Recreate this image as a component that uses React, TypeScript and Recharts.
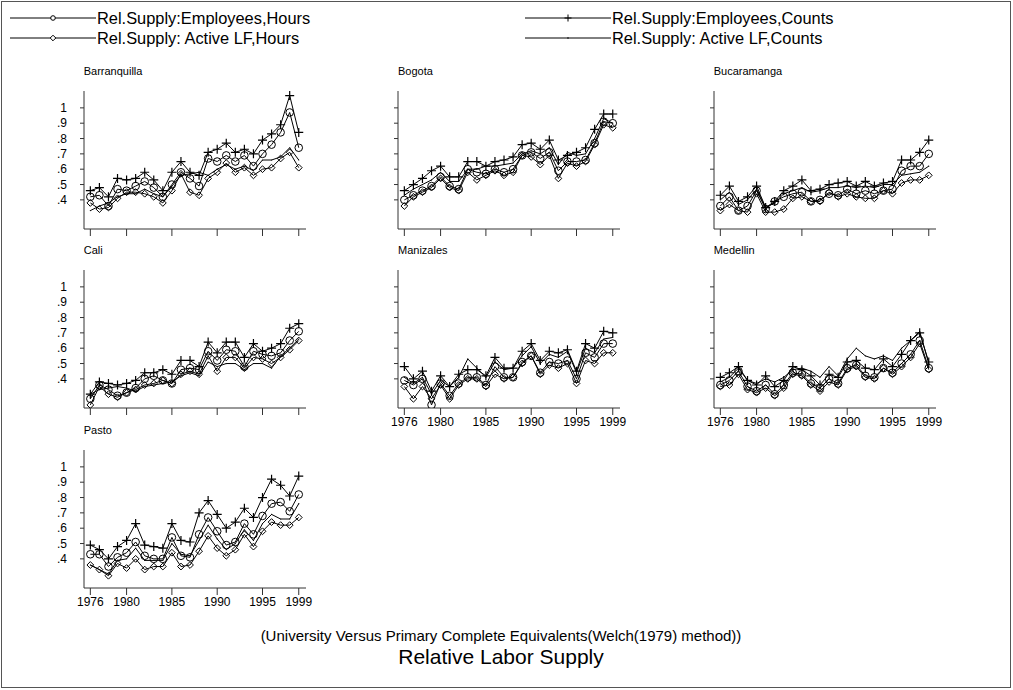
import React from 'react';
import { LineChart, Line, XAxis, YAxis } from 'recharts';

const years = [1976, 1977, 1978, 1979, 1980, 1981, 1982, 1983, 1984, 1985, 1986, 1987, 1988, 1989, 1990, 1991, 1992, 1993, 1994, 1995, 1996, 1997, 1998, 1999];
const xTicks = [1976, 1980, 1985, 1990, 1995, 1999];
const yTicks = [0.4, 0.5, 0.6, 0.7, 0.8, 0.9, 1];
const seriesNames = ['Rel.Supply:Employees,Hours', 'Rel.Supply:Employees,Counts', 'Rel.Supply: Active LF,Hours', 'Rel.Supply: Active LF,Counts'];
const cityNames = ['Barranquilla', 'Bogota', 'Bucaramanga', 'Cali', 'Manizales', 'Medellin', 'Pasto'];
const titleText = 'Relative Labor Supply';
const subtitleText = '(University Versus Primary Complete Equivalents(Welch(1979) method))';

const barranquillaEmpHours = [0.42, 0.43, 0.36, 0.47, 0.46, 0.49, 0.52, 0.48, 0.42, 0.50, 0.58, 0.54, 0.49, 0.67, 0.65, 0.69, 0.65, 0.69, 0.62, 0.70, 0.76, 0.84, 0.97, 0.74];
const barranquillaEmpCounts = [0.46, 0.48, 0.42, 0.54, 0.53, 0.54, 0.58, 0.53, 0.46, 0.58, 0.65, 0.58, 0.56, 0.71, 0.73, 0.77, 0.71, 0.73, 0.70, 0.79, 0.83, 0.89, 1.08, 0.84];
const barranquillaLFHours = [0.38, 0.34, 0.35, 0.41, 0.45, 0.45, 0.44, 0.42, 0.38, 0.46, 0.57, 0.45, 0.43, 0.54, 0.58, 0.64, 0.58, 0.61, 0.56, 0.60, 0.61, 0.67, 0.71, 0.61];
const barranquillaLFCounts = [0.33, 0.36, 0.38, 0.42, 0.44, 0.44, 0.47, 0.44, 0.42, 0.49, 0.56, 0.57, 0.58, 0.56, 0.60, 0.63, 0.60, 0.62, 0.59, 0.66, 0.66, 0.68, 0.74, 0.66];

const bogotaEmpHours = [0.40, 0.43, 0.46, 0.49, 0.55, 0.49, 0.47, 0.60, 0.58, 0.57, 0.60, 0.58, 0.60, 0.69, 0.71, 0.67, 0.71, 0.59, 0.65, 0.65, 0.66, 0.77, 0.91, 0.90];
const bogotaEmpCounts = [0.46, 0.50, 0.54, 0.59, 0.62, 0.55, 0.55, 0.65, 0.65, 0.62, 0.65, 0.66, 0.68, 0.76, 0.77, 0.73, 0.79, 0.66, 0.69, 0.71, 0.74, 0.86, 0.96, 0.96];
const bogotaLFHours = [0.36, 0.42, 0.45, 0.48, 0.54, 0.48, 0.46, 0.58, 0.53, 0.56, 0.59, 0.56, 0.58, 0.69, 0.68, 0.63, 0.69, 0.54, 0.64, 0.62, 0.65, 0.76, 0.89, 0.87];
const bogotaLFCounts = [0.43, 0.47, 0.50, 0.53, 0.58, 0.52, 0.52, 0.60, 0.60, 0.62, 0.62, 0.63, 0.64, 0.70, 0.72, 0.70, 0.74, 0.63, 0.71, 0.69, 0.70, 0.80, 0.93, 0.90];

const bucaramangaEmpHours = [0.36, 0.42, 0.33, 0.36, 0.46, 0.34, 0.39, 0.42, 0.44, 0.45, 0.39, 0.40, 0.44, 0.43, 0.47, 0.44, 0.46, 0.44, 0.46, 0.47, 0.59, 0.62, 0.62, 0.70];
const bucaramangaEmpCounts = [0.43, 0.49, 0.39, 0.42, 0.49, 0.35, 0.39, 0.46, 0.49, 0.53, 0.46, 0.47, 0.50, 0.51, 0.52, 0.49, 0.52, 0.49, 0.51, 0.52, 0.66, 0.66, 0.71, 0.79];
const bucaramangaLFHours = [0.33, 0.37, 0.33, 0.32, 0.44, 0.32, 0.32, 0.34, 0.41, 0.42, 0.39, 0.39, 0.45, 0.42, 0.44, 0.42, 0.41, 0.41, 0.46, 0.44, 0.51, 0.53, 0.53, 0.56];
const bucaramangaLFCounts = [0.40, 0.45, 0.37, 0.40, 0.47, 0.35, 0.38, 0.44, 0.46, 0.48, 0.45, 0.46, 0.48, 0.48, 0.49, 0.48, 0.49, 0.48, 0.50, 0.50, 0.56, 0.57, 0.58, 0.62];

const caliEmpHours = [0.27, 0.36, 0.33, 0.29, 0.31, 0.34, 0.40, 0.42, 0.39, 0.37, 0.46, 0.47, 0.46, 0.58, 0.52, 0.59, 0.58, 0.48, 0.58, 0.56, 0.55, 0.57, 0.65, 0.71];
const caliEmpCounts = [0.30, 0.38, 0.37, 0.36, 0.37, 0.39, 0.44, 0.44, 0.46, 0.43, 0.52, 0.52, 0.48, 0.64, 0.57, 0.64, 0.64, 0.54, 0.63, 0.58, 0.60, 0.63, 0.73, 0.76];
const caliLFHours = [0.23, 0.35, 0.30, 0.28, 0.31, 0.33, 0.36, 0.37, 0.39, 0.37, 0.43, 0.45, 0.43, 0.55, 0.45, 0.54, 0.54, 0.47, 0.54, 0.53, 0.50, 0.54, 0.59, 0.65];
const caliLFCounts = [0.30, 0.33, 0.34, 0.35, 0.34, 0.32, 0.35, 0.36, 0.37, 0.38, 0.42, 0.44, 0.42, 0.51, 0.48, 0.50, 0.50, 0.46, 0.50, 0.50, 0.47, 0.55, 0.60, 0.66];

const manizalesEmpHours = [0.39, 0.36, 0.40, 0.23, 0.37, 0.29, 0.37, 0.41, 0.41, 0.36, 0.48, 0.41, 0.41, 0.51, 0.55, 0.44, 0.51, 0.50, 0.52, 0.40, 0.57, 0.54, 0.63, 0.63];
const manizalesEmpCounts = [0.48, 0.40, 0.45, 0.32, 0.42, 0.35, 0.43, 0.46, 0.46, 0.42, 0.54, 0.47, 0.47, 0.58, 0.63, 0.52, 0.58, 0.57, 0.59, 0.45, 0.63, 0.60, 0.71, 0.70];
const manizalesLFHours = [0.35, 0.27, 0.35, 0.27, 0.36, 0.27, 0.36, 0.40, 0.40, 0.35, 0.43, 0.40, 0.41, 0.50, 0.55, 0.43, 0.49, 0.47, 0.50, 0.37, 0.52, 0.50, 0.57, 0.57];
const manizalesLFCounts = [0.41, 0.37, 0.41, 0.30, 0.39, 0.35, 0.41, 0.53, 0.47, 0.41, 0.51, 0.46, 0.47, 0.55, 0.61, 0.50, 0.56, 0.54, 0.58, 0.44, 0.60, 0.57, 0.66, 0.67];

const medellinEmpHours = [0.36, 0.39, 0.45, 0.35, 0.32, 0.36, 0.30, 0.36, 0.44, 0.43, 0.37, 0.34, 0.40, 0.37, 0.47, 0.49, 0.42, 0.41, 0.47, 0.44, 0.50, 0.56, 0.65, 0.47];
const medellinEmpCounts = [0.41, 0.44, 0.48, 0.39, 0.36, 0.42, 0.35, 0.39, 0.48, 0.46, 0.42, 0.36, 0.43, 0.41, 0.51, 0.52, 0.47, 0.46, 0.53, 0.48, 0.56, 0.65, 0.70, 0.51];
const medellinLFHours = [0.35, 0.36, 0.43, 0.33, 0.31, 0.34, 0.29, 0.34, 0.43, 0.42, 0.36, 0.32, 0.38, 0.36, 0.46, 0.48, 0.41, 0.40, 0.47, 0.43, 0.48, 0.54, 0.63, 0.46];
const medellinLFCounts = [0.38, 0.41, 0.47, 0.39, 0.37, 0.40, 0.38, 0.41, 0.46, 0.47, 0.45, 0.41, 0.48, 0.42, 0.53, 0.60, 0.55, 0.53, 0.55, 0.52, 0.60, 0.65, 0.71, 0.50];

const pastoEmpHours = [0.43, 0.43, 0.35, 0.41, 0.44, 0.51, 0.42, 0.40, 0.40, 0.54, 0.42, 0.41, 0.56, 0.67, 0.58, 0.49, 0.51, 0.63, 0.56, 0.68, 0.76, 0.77, 0.71, 0.82];
const pastoEmpCounts = [0.49, 0.46, 0.40, 0.48, 0.52, 0.63, 0.49, 0.48, 0.47, 0.63, 0.52, 0.51, 0.70, 0.78, 0.69, 0.60, 0.64, 0.73, 0.67, 0.80, 0.92, 0.88, 0.81, 0.94];
const pastoLFHours = [0.36, 0.33, 0.29, 0.37, 0.34, 0.40, 0.33, 0.35, 0.35, 0.44, 0.35, 0.36, 0.45, 0.55, 0.47, 0.42, 0.46, 0.56, 0.48, 0.58, 0.64, 0.62, 0.62, 0.67];
const pastoLFCounts = [0.36, 0.33, 0.30, 0.39, 0.40, 0.47, 0.39, 0.39, 0.39, 0.50, 0.43, 0.42, 0.52, 0.62, 0.53, 0.46, 0.50, 0.59, 0.52, 0.63, 0.69, 0.66, 0.66, 0.76];

const citySeries: number[][][] = [
  [barranquillaEmpHours, barranquillaEmpCounts, barranquillaLFHours, barranquillaLFCounts],
  [bogotaEmpHours, bogotaEmpCounts, bogotaLFHours, bogotaLFCounts],
  [bucaramangaEmpHours, bucaramangaEmpCounts, bucaramangaLFHours, bucaramangaLFCounts],
  [caliEmpHours, caliEmpCounts, caliLFHours, caliLFCounts],
  [manizalesEmpHours, manizalesEmpCounts, manizalesLFHours, manizalesLFCounts],
  [medellinEmpHours, medellinEmpCounts, medellinLFHours, medellinLFCounts],
  [pastoEmpHours, pastoEmpCounts, pastoLFHours, pastoLFCounts],
];

const FONT = '"Liberation Sans", Arial, Helvetica, sans-serif';
const COL_LEFT = [83.7, 398, 713.7];
const ROW_TOP = [91, 270, 450];
const PLOT_W = 222;
const PLOT_H = 138;
const Y_W = 40;
const X_H = 30;
const R_M = 20;
const AXIS = '#333';

const CircleDot = (p: any) => {
  if (p.cx == null || p.cy == null) return <g key={`c${p.index}`} />;
  return <circle key={`c${p.index}`} cx={p.cx} cy={p.cy} r={3.8} fill="none" stroke="#000" strokeWidth={1} />;
};
const PlusDot = (p: any) => {
  if (p.cx == null || p.cy == null) return <g key={`p${p.index}`} />;
  const a = 4.5;
  return (
    <path key={`p${p.index}`} d={`M${p.cx - a},${p.cy}H${p.cx + a}M${p.cx},${p.cy - a}V${p.cy + a}`} stroke="#000" strokeWidth={1.2} fill="none" />
  );
};
const DiamondDot = (p: any) => {
  if (p.cx == null || p.cy == null) return <g key={`d${p.index}`} />;
  const a = 3.4;
  return (
    <path key={`d${p.index}`} d={`M${p.cx},${p.cy - a}L${p.cx + a},${p.cy}L${p.cx},${p.cy + a}L${p.cx - a},${p.cy}Z`} stroke="#000" strokeWidth={1} fill="none" />
  );
};
const PointDot = (p: any) => {
  if (p.cx == null || p.cy == null) return <g key={`t${p.index}`} />;
  return <circle key={`t${p.index}`} cx={p.cx} cy={p.cy} r={0.6} fill="#000" />;
};

const fmtY = (v: number) => (v >= 1 ? '1' : '.' + Math.round(v * 10));

function Panel({ idx }: { idx: number }) {
  const col = idx % 3;
  const row = Math.floor(idx / 3);
  const showY = col === 0;
  const showX = row === 2 || (row === 1 && col > 0);
  const s = citySeries[idx];
  const data = years.map((y, i) => ({ year: y, eh: s[0][i], ec: s[1][i], ah: s[2][i], ac: s[3][i] }));
  const left = COL_LEFT[col];
  const top = ROW_TOP[row];
  return (
    <>
      <div style={{ position: 'absolute', left: left, top: top - 27, fontFamily: FONT, fontSize: 11, lineHeight: '14px', color: '#000', whiteSpace: 'nowrap' }}>
        {cityNames[idx]}
      </div>
      <div style={{ position: 'absolute', left: left - Y_W, top: top }}>
        <LineChart width={Y_W + PLOT_W + R_M} height={PLOT_H + X_H} data={data} margin={{ top: 0, right: R_M, bottom: 0, left: 0 }}>
          <XAxis
            dataKey="year"
            type="number"
            domain={[1975.3, 1999.8]}
            ticks={xTicks}
            interval={0}
            allowDataOverflow
            tickSize={7}
            tickMargin={2}
            height={X_H}
            stroke={AXIS}
            tickLine={{ stroke: AXIS }}
            tick={{ fontSize: 12, fill: '#000', fontFamily: FONT }}
            tickFormatter={(v: number) => (showX ? String(v) : '')}
          />
          <YAxis
            type="number"
            domain={[0.21, 1.11]}
            ticks={yTicks}
            interval={0}
            allowDataOverflow
            tickSize={4}
            tickMargin={13}
            width={Y_W}
            stroke={AXIS}
            tickLine={{ stroke: AXIS }}
            tick={{ fontSize: 12, fill: '#000', fontFamily: FONT }}
            tickFormatter={(v: number) => (showY ? fmtY(v) : '')}
          />
          <Line dataKey="ac" stroke="#000" strokeWidth={1} dot={PointDot} activeDot={false} isAnimationActive={false} />
          <Line dataKey="ah" stroke="#000" strokeWidth={1} dot={DiamondDot} activeDot={false} isAnimationActive={false} />
          <Line dataKey="eh" stroke="#000" strokeWidth={1} dot={CircleDot} activeDot={false} isAnimationActive={false} />
          <Line dataKey="ec" stroke="#000" strokeWidth={1} dot={PlusDot} activeDot={false} isAnimationActive={false} />
        </LineChart>
      </div>
    </>
  );
}

function LegendMarker({ kind, x, y }: { kind: number; x: number; y: number }) {
  if (kind === 0) return <circle cx={x} cy={y} r={2.3} fill="#fff" stroke="#000" strokeWidth={1} />;
  if (kind === 1) return <path d={`M${x - 3.5},${y}H${x + 3.5}M${x},${y - 3.5}V${y + 3.5}`} stroke="#000" strokeWidth={1} />;
  if (kind === 2) return <path d={`M${x},${y - 2.8}L${x + 2.8},${y}L${x},${y + 2.8}L${x - 2.8},${y}Z`} fill="#fff" stroke="#000" strokeWidth={1} />;
  return <circle cx={x} cy={y} r={0.8} fill="#000" />;
}

function Legend() {
  const items = [
    { kind: 0, x0: 10, y: 18 },
    { kind: 1, x0: 525, y: 18 },
    { kind: 2, x0: 10, y: 38 },
    { kind: 3, x0: 525, y: 38 },
  ];
  return (
    <svg width={1013} height={55} style={{ position: 'absolute', left: 0, top: 0 }}>
      {items.map((it) => (
        <g key={it.kind}>
          <line x1={it.x0} x2={it.x0 + 86} y1={it.y} y2={it.y} stroke="#000" strokeWidth={1} />
          <LegendMarker kind={it.kind} x={it.x0 + 43} y={it.y} />
          <text x={it.x0 + 87} y={it.y} dy="0.35em" fontFamily={FONT} fontSize={16.4} fill="#000">
            {seriesNames[it.kind]}
          </text>
        </g>
      ))}
    </svg>
  );
}

export default function App() {
  return (
    <div style={{ position: 'absolute', left: 0, top: 0, width: 1013, height: 690, background: '#fff', overflow: 'hidden' }}>
      <div style={{ position: 'absolute', left: 1, top: 1, width: 1008, height: 685, border: '1px solid #555' }} />
      <Legend />
      {cityNames.map((_, i) => (
        <Panel key={i} idx={i} />
      ))}
      <svg width={1013} height={690} style={{ position: 'absolute', left: 0, top: 0, pointerEvents: 'none' }}>
        <text x={501} y={636} dy="0.35em" textAnchor="middle" fontFamily={FONT} fontSize={15} fill="#000">
          {subtitleText}
        </text>
        <text x={501} y={657} dy="0.35em" textAnchor="middle" fontFamily={FONT} fontSize={21} fill="#000">
          {titleText}
        </text>
      </svg>
    </div>
  );
}
